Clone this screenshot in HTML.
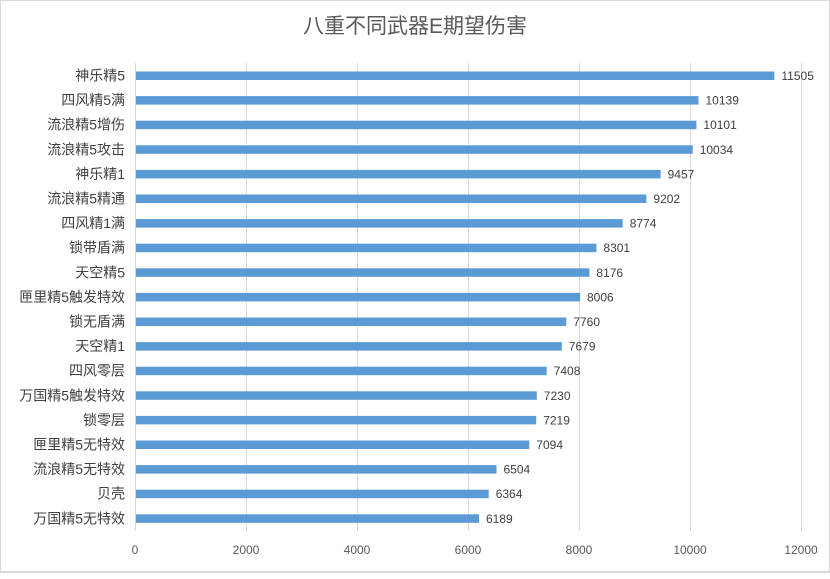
<!DOCTYPE html><html><head><meta charset="utf-8"><style>body{margin:0;background:#fff}</style></head><body>
<svg width="830" height="574" xmlns="http://www.w3.org/2000/svg" font-family="Liberation Sans, Noto Sans CJK SC, sans-serif">
<rect x="0.5" y="0.5" width="829" height="572" fill="#fff" stroke="#d9d9d9"/>
<text x="415" y="33" text-anchor="middle" font-size="21" fill="#595959">八重不同武器E期望伤害</text>
<g stroke="#d9d9d9" stroke-width="1">
<line x1="135.5" y1="63" x2="135.5" y2="531"/><line x1="246.5" y1="63" x2="246.5" y2="531"/><line x1="357.5" y1="63" x2="357.5" y2="531"/><line x1="468.5" y1="63" x2="468.5" y2="531"/><line x1="579.5" y1="63" x2="579.5" y2="531"/><line x1="690.5" y1="63" x2="690.5" y2="531"/><line x1="801.5" y1="63" x2="801.5" y2="531"/>
</g>
<g font-size="12" fill="#595959" text-anchor="middle">
<text x="135" y="554">0</text><text x="246" y="554">2000</text><text x="357" y="554">4000</text><text x="468" y="554">6000</text><text x="579" y="554">8000</text><text x="690" y="554">10000</text><text x="801" y="554">12000</text>
</g>
<line x1="0" y1="571.5" x2="830" y2="571.5" stroke="#d9d9d9"/>
<g fill="#5b9bd5">
<rect x="136" y="71.5" width="638.4" height="8.5"/>
<rect x="136" y="96.1" width="562.5" height="8.5"/>
<rect x="136" y="120.7" width="560.4" height="8.5"/>
<rect x="136" y="145.3" width="556.7" height="8.5"/>
<rect x="136" y="169.9" width="524.6" height="8.5"/>
<rect x="136" y="194.5" width="510.4" height="8.5"/>
<rect x="136" y="219.1" width="486.7" height="8.5"/>
<rect x="136" y="243.7" width="460.4" height="8.5"/>
<rect x="136" y="268.3" width="453.4" height="8.5"/>
<rect x="136" y="292.9" width="444.0" height="8.5"/>
<rect x="136" y="317.5" width="430.3" height="8.5"/>
<rect x="136" y="342.1" width="425.8" height="8.5"/>
<rect x="136" y="366.7" width="410.7" height="8.5"/>
<rect x="136" y="391.3" width="400.8" height="8.5"/>
<rect x="136" y="415.9" width="400.2" height="8.5"/>
<rect x="136" y="440.5" width="393.3" height="8.5"/>
<rect x="136" y="465.1" width="360.5" height="8.5"/>
<rect x="136" y="489.7" width="352.7" height="8.5"/>
<rect x="136" y="514.3" width="343.0" height="8.5"/>
</g>
<g font-size="14" fill="#404040" text-anchor="end">
<text x="125" y="80.5">神乐精5</text>
<text x="125" y="105.1">四风精5满</text>
<text x="125" y="129.7">流浪精5增伤</text>
<text x="125" y="154.3">流浪精5攻击</text>
<text x="125" y="178.9">神乐精1</text>
<text x="125" y="203.5">流浪精5精通</text>
<text x="125" y="228.1">四风精1满</text>
<text x="125" y="252.7">锁带盾满</text>
<text x="125" y="277.3">天空精5</text>
<text x="125" y="301.9">匣里精5触发特效</text>
<text x="125" y="326.5">锁无盾满</text>
<text x="125" y="351.1">天空精1</text>
<text x="125" y="375.7">四风零层</text>
<text x="125" y="400.3">万国精5触发特效</text>
<text x="125" y="424.9">锁零层</text>
<text x="125" y="449.5">匣里精5无特效</text>
<text x="125" y="474.1">流浪精5无特效</text>
<text x="125" y="498.7">贝壳</text>
<text x="125" y="523.3">万国精5无特效</text>
</g>
<g font-size="12" fill="#404040">
<text x="781.4" y="80">11505</text>
<text x="705.5" y="104.6">10139</text>
<text x="703.4" y="129.2">10101</text>
<text x="699.7" y="153.8">10034</text>
<text x="667.6" y="178.4">9457</text>
<text x="653.4" y="203">9202</text>
<text x="629.7" y="227.6">8774</text>
<text x="603.4" y="252.2">8301</text>
<text x="596.4" y="276.8">8176</text>
<text x="587" y="301.4">8006</text>
<text x="573.3" y="326">7760</text>
<text x="568.8" y="350.6">7679</text>
<text x="553.7" y="375.2">7408</text>
<text x="543.8" y="399.8">7230</text>
<text x="543.2" y="424.4">7219</text>
<text x="536.3" y="449">7094</text>
<text x="503.5" y="473.6">6504</text>
<text x="495.7" y="498.2">6364</text>
<text x="486" y="522.8">6189</text>
</g>
</svg></body></html>
